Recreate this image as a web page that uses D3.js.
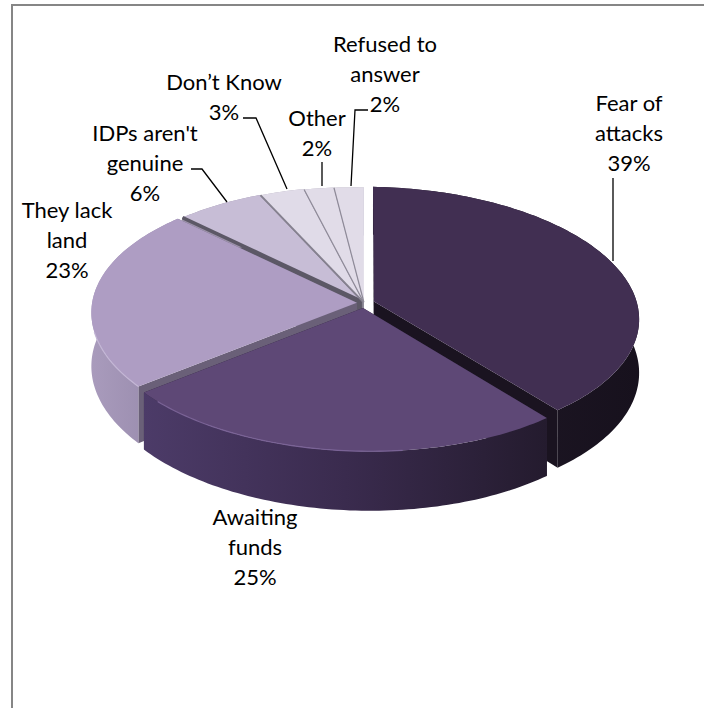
<!DOCTYPE html>
<html>
<head>
<meta charset="utf-8">
<script src="https://cdn.jsdelivr.net/npm/d3@7"></script>
<style>
  html, body { margin: 0; padding: 0; background: #fff; }
  svg { display: block; }
  text { font-family: Lato, "Open Sans", sans-serif; fill: #000; }
</style>
</head>
<body>
<svg id="chart" width="704" height="708"></svg>
<script>
// Survey answers, clockwise from twelve o'clock
const categories = ["Fear of attacks", "Awaiting funds", "They lack land", "IDPs aren't genuine", "Don\u2019t Know", "Other", "Refused to answer"];
const shares = [39, 25, 23, 6, 3, 2, 2];

// Styling per slice
const topColors = ["#412f52", "#5e4876", "#ae9dc3", "#c7bdd6", "#e0dbe8", "#e1dce8", "#e1dce8"];
const wallColors = ["#1a1320", "#2a2036", "#6a6078", "#5c5866", "#85818f", "#8f8b99", "#8f8b99"];
const sideStops = [
  ["#221a2a", "#17111d"],
  ["#4c3b68", "#3a2b4e", "#241b2e"],
  ["#a99bbc", "#9487a9"],
  ["#9c92aa", "#9c92aa"],
  ["#b0abba", "#b0abba"],
  ["#b0abba", "#b0abba"],
  ["#b0abba", "#b0abba"]
];
const explode = [0.04, 0.04, 0.027, 0.015, 0.012, 0.008, 0.006];
// Width of the seam drawn along the clockwise-start edge of the upper slices
const seamWidths = [0, 0, 0, 3.5, 1.8, 1.2, 1.2];

// Label text, placement and leader paths
const labelLines = [
  ["Fear of", "attacks", "39%"],
  ["Awaiting", "funds", "25%"],
  ["They lack", "land", "23%"],
  ["IDPs aren't", "genuine", "6%"],
  ["Don\u2019t Know", "3%"],
  ["Other", "2%"],
  ["Refused to", "answer", "2%"]
];
const labelAnchors = [[629, 111], [255, 525], [67, 218], [145, 141], [224, 90], [317, 126], [385, 52]];
const leaders = [
  [[613, 178], [613, 261]],
  null,
  null,
  [[191, 169], [202, 169], [227, 202]],
  [[243, 118], [256, 118], [287, 189]],
  [[322, 162], [322, 186]],
  [[368, 110], [355, 110], [351, 186]]
];

const svg = d3.select("#chart");

// Perspective view of a unit disc lying flat: x to the right, z away from the viewer, h downwards.
// A slight tilt lowers the right side and raises the left.
const view = { cx: 364, cy: 303, spreadX: 264, spreadZ: 127, depth: 53, persp: 0.105, tilt: 4 };
function project(x, z, h) {
  const w = 1 + view.persp * z;
  return [view.cx + view.spreadX * x / w, view.cy + view.tilt * x - view.spreadZ * z / w + view.depth * h / w];
}

const pie = d3.pie().value(d => d).sort(null);
const arcs = pie(shares).map((a, i) => {
  const mid = (a.startAngle + a.endAngle) / 2;
  return { ...a, i, mid, ox: explode[i] * Math.sin(mid), oz: explode[i] * Math.cos(mid) };
});

const path = d3.line();
function rimPoints(a, h) {
  const n = Math.max(4, Math.ceil((a.endAngle - a.startAngle) / 0.02));
  return d3.range(n + 1).map(k => {
    const t = a.startAngle + (a.endAngle - a.startAngle) * k / n;
    return project(a.ox + Math.sin(t), a.oz + Math.cos(t), h);
  });
}
const tip = (a, h) => project(a.ox, a.oz, h);
const rimAt = (a, t, h) => project(a.ox + Math.sin(t), a.oz + Math.cos(t), h);

// Horizontal shading along each slice's outer wall
const defs = svg.append("defs");
sideStops.forEach((stops, i) => {
  const g = defs.append("linearGradient").attr("id", "side" + i).attr("x1", 0).attr("x2", 1).attr("y1", 0).attr("y2", 0);
  stops.forEach((c, k) => g.append("stop").attr("offset", k / (stops.length - 1)).attr("stop-color", c));
});

// Chart frame: only the top and left edges fall inside the page
svg.append("path")
  .attr("d", path([[12, 708], [12, 5], [704, 5]]))
  .attr("fill", "none").attr("stroke", "#868686").attr("stroke-width", 2);

// Paint slices from the back of the disc to the front
const ordered = arcs.slice().sort((p, q) => Math.cos(q.mid) - Math.cos(p.mid));
const slices = svg.append("g").selectAll("g").data(ordered).join("g");

slices.each(function (a) {
  const g = d3.select(this);
  // radial cut faces
  [a.startAngle, a.endAngle].forEach(t => {
    g.append("path")
      .attr("d", path([tip(a, 0), rimAt(a, t, 0), rimAt(a, t, 1), tip(a, 1)]) + "Z")
      .attr("fill", wallColors[a.i]);
  });
  // outer curved wall
  g.append("path")
    .attr("d", path(rimPoints(a, 0).concat(rimPoints(a, 1).reverse())) + "Z")
    .attr("fill", `url(#side${a.i})`);
  // top face
  g.append("path")
    .attr("d", path([tip(a, 0)].concat(rimPoints(a, 0))) + "Z")
    .attr("fill", topColors[a.i]);
});

// Lit rim where the top face of the two front slices turns into the wall
const litRims = [[1, "#7a6396", 0.35, 0.95], [2, "#c3b6d5", 0.0, 0.3]];
svg.append("g").selectAll("path").data(litRims).join("path")
  .attr("d", ([i, , from, to]) => {
    const pts = rimPoints(arcs[i], 0);
    return path(pts.slice(Math.floor(pts.length * from), Math.ceil(pts.length * to)));
  })
  .attr("fill", "none").attr("stroke", d => d[1]).attr("stroke-width", 1.2);

// Seams between the slices at the back of the disc
svg.append("g").selectAll("path")
  .data(arcs.filter(a => seamWidths[a.i] > 0))
  .join("path")
  .attr("d", a => path([tip(a, 0), rimAt(a, a.startAngle, 0)]))
  .attr("fill", "none")
  .attr("stroke", a => wallColors[a.i])
  .attr("stroke-width", a => seamWidths[a.i]);

// Leader lines
svg.append("g").selectAll("path")
  .data(leaders.filter(Boolean))
  .join("path")
  .attr("d", d => path(d))
  .attr("fill", "none").attr("stroke", "#000").attr("stroke-width", 1.3);

// Labels, one line every 30px
const lineStep = 30;
svg.append("g").selectAll("text")
  .data(labelLines)
  .join("text")
  .attr("text-anchor", "middle")
  .attr("font-size", 22)
  .each(function (lines, i) {
    d3.select(this).selectAll("tspan").data(lines).join("tspan")
      .attr("x", labelAnchors[i][0])
      .attr("y", (d, k) => labelAnchors[i][1] + k * lineStep)
      .text(d => d);
  });
</script>
</body>
</html>
